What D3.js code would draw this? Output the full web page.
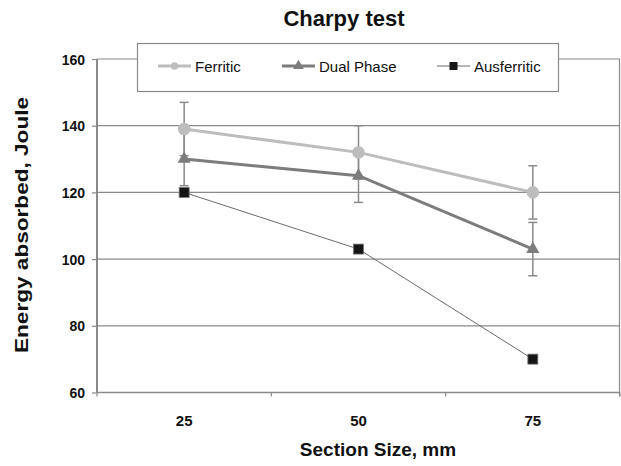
<!DOCTYPE html>
<html>
<head>
<meta charset="utf-8">
<script src="https://cdn.jsdelivr.net/npm/d3@7"></script>
<style>
  body { margin: 0; background: #fff; }
  text { font-family: "Liberation Sans", Arial, sans-serif; }
</style>
</head>
<body>
<div id="chart"></div>
<script>
// chart data
var sections = ["25", "50", "75"];
var ferritic = [139, 132, 120];
var ferriticErr = [8, 8, 8];
var dualPhase = [130, 125, 103];
var dualPhaseErr = [8, 8, 8];
var ausferritic = [120, 103, 70];
var yTicks = [60, 80, 100, 120, 140, 160];

var svgWidth = 621;
var svgHeight = 466;

var margin = {
  top: 59,
  right: 1,
  bottom: 73.5,
  left: 97
};

var width = svgWidth - margin.left - margin.right;
var height = svgHeight - margin.top - margin.bottom;

var svg = d3.select("#chart")
  .append("svg")
  .attr("width", svgWidth)
  .attr("height", svgHeight);

var chartGroup = svg.append("g")
  .attr("transform", `translate(${margin.left}, ${margin.top})`);

// scales
var xScale = d3.scalePoint()
  .domain(sections)
  .range([0, width])
  .padding(0.5);

var yScale = d3.scaleLinear()
  .domain([60, 160])
  .range([height, 0]);

// horizontal gridlines
chartGroup.selectAll(".grid")
  .data(yTicks.slice(1))
  .enter()
  .append("line")
  .attr("x1", 0)
  .attr("x2", width)
  .attr("y1", d => yScale(d))
  .attr("y2", d => yScale(d))
  .attr("stroke", "#8a8a8a")
  .attr("stroke-width", 1.2);

// right frame line
chartGroup.append("line")
  .attr("x1", width - 0.5)
  .attr("x2", width - 0.5)
  .attr("y1", 0)
  .attr("y2", height + 4)
  .attr("stroke", "#8a8a8a")
  .attr("stroke-width", 1.2);

// y axis
var leftAxis = d3.axisLeft(yScale)
  .tickValues(yTicks)
  .tickSize(5)
  .tickPadding(7);

var yAxis = chartGroup.append("g").call(leftAxis);
yAxis.select(".domain").attr("stroke", "#8a8a8a").attr("stroke-width", 2)
  .attr("d", `M0,0V${height}`);
yAxis.selectAll(".tick line").attr("stroke", "#8a8a8a").attr("stroke-width", 1.2);
yAxis.selectAll(".tick text")
  .attr("font-size", 14)
  .attr("font-weight", "bold")
  .attr("fill", "#111")
  .attr("dy", "0.36em");

// x axis, ticks between categories
var step = xScale.step();
var xAxis = chartGroup.append("g")
  .attr("transform", `translate(0, ${height})`);
xAxis.append("line")
  .attr("x1", 0)
  .attr("x2", width)
  .attr("stroke", "#8a8a8a")
  .attr("stroke-width", 1.5);
xAxis.selectAll(".xtick")
  .data(d3.range(sections.length + 1))
  .enter()
  .append("line")
  .attr("x1", d => d * step)
  .attr("x2", d => d * step)
  .attr("y1", 0)
  .attr("y2", 4)
  .attr("stroke", "#8a8a8a")
  .attr("stroke-width", 1.2);
xAxis.selectAll(".xlabel")
  .data(sections)
  .enter()
  .append("text")
  .attr("x", d => xScale(d))
  .attr("y", 33.5)
  .attr("text-anchor", "middle")
  .attr("font-size", 15)
  .attr("font-weight", "bold")
  .attr("fill", "#111")
  .text(d => d);

// error bars
function drawErrors(values, errs) {
  values.forEach(function(v, i) {
    var x = xScale(sections[i]);
    var g = chartGroup.append("g")
      .attr("stroke", "#8a8a8a")
      .attr("stroke-width", 1.5);
    g.append("line")
      .attr("x1", x).attr("x2", x)
      .attr("y1", yScale(v - errs[i]))
      .attr("y2", yScale(v + errs[i]));
    [v - errs[i], v + errs[i]].forEach(function(e) {
      g.append("line")
        .attr("x1", x - 4.5).attr("x2", x + 4.5)
        .attr("y1", yScale(e)).attr("y2", yScale(e));
    });
  });
}
drawErrors(ferritic, ferriticErr);
drawErrors(dualPhase, dualPhaseErr);

// series lines
var line = d3.line()
  .x((d, i) => xScale(sections[i]))
  .y(d => yScale(d));

chartGroup.append("path")
  .datum(ausferritic)
  .attr("d", line)
  .attr("fill", "none")
  .attr("stroke", "#6a6a6a")
  .attr("stroke-width", 1);

chartGroup.append("path")
  .datum(dualPhase)
  .attr("d", line)
  .attr("fill", "none")
  .attr("stroke", "#7c7c7c")
  .attr("stroke-width", 3);

chartGroup.append("path")
  .datum(ferritic)
  .attr("d", line)
  .attr("fill", "none")
  .attr("stroke", "#bdbdbd")
  .attr("stroke-width", 3);

// markers
var triangle = d3.symbol().type(d3.symbolTriangle).size(75);
var circleSym = d3.symbol().type(d3.symbolCircle).size(125);

chartGroup.selectAll(".sq")
  .data(ausferritic)
  .enter()
  .append("rect")
  .attr("x", (d, i) => xScale(sections[i]) - 5)
  .attr("y", d => yScale(d) - 5)
  .attr("width", 10)
  .attr("height", 10)
  .attr("fill", "#151515")
  .attr("stroke", "#777")
  .attr("stroke-width", 0.8);

chartGroup.selectAll(".tri")
  .data(dualPhase)
  .enter()
  .append("path")
  .attr("d", triangle)
  .attr("transform", (d, i) => `translate(${xScale(sections[i])}, ${yScale(d)})`)
  .attr("fill", "#7c7c7c");

chartGroup.selectAll(".dot")
  .data(ferritic)
  .enter()
  .append("path")
  .attr("d", circleSym)
  .attr("transform", (d, i) => `translate(${xScale(sections[i])}, ${yScale(d)})`)
  .attr("fill", "#bdbdbd");

// legend
var legend = svg.append("g");
legend.append("rect")
  .attr("x", 137.5)
  .attr("y", 43.5)
  .attr("width", 421)
  .attr("height", 48)
  .attr("fill", "#fff")
  .attr("stroke", "#8a8a8a")
  .attr("stroke-width", 1.2);

var legendItems = [
  { name: "Ferritic", x: 158, color: "#bdbdbd", w: 3, mark: "circle" },
  { name: "Dual Phase", x: 282, color: "#7c7c7c", w: 3, mark: "tri" },
  { name: "Ausferritic", x: 437, color: "#6a6a6a", w: 1, mark: "sq" }
];

legendItems.forEach(function(item) {
  var g = legend.append("g").attr("transform", `translate(${item.x}, 66)`);
  g.append("line")
    .attr("x1", 0).attr("x2", 33)
    .attr("stroke", item.color)
    .attr("stroke-width", item.w);
  if (item.mark === "circle") {
    g.append("path").attr("d", d3.symbol().type(d3.symbolCircle).size(45))
      .attr("transform", "translate(16.5,0)").attr("fill", item.color);
  } else if (item.mark === "tri") {
    g.append("path").attr("d", d3.symbol().type(d3.symbolTriangle).size(50))
      .attr("transform", "translate(16.5,0)").attr("fill", item.color);
  } else {
    g.append("rect").attr("x", 12.5).attr("y", -4).attr("width", 8).attr("height", 8)
      .attr("fill", "#151515");
  }
  g.append("text")
    .attr("x", 37)
    .attr("y", 5.5)
    .attr("font-size", 15)
    .attr("fill", "#111")
    .text(item.name);
});

// title and axis labels
svg.append("text")
  .attr("x", 344)
  .attr("y", 26)
  .attr("text-anchor", "middle")
  .attr("font-size", 22)
  .attr("font-weight", "bold")
  .attr("fill", "#111")
  .text("Charpy test");

svg.append("text")
  .attr("x", 378)
  .attr("y", 456)
  .attr("text-anchor", "middle")
  .attr("font-size", 19)
  .attr("font-weight", "bold")
  .attr("fill", "#111")
  .text("Section Size, mm");

svg.append("text")
  .attr("transform", "translate(28, 225) rotate(-90)")
  .attr("text-anchor", "middle")
  .attr("font-size", 18)
  .attr("font-weight", "bold")
  .attr("fill", "#111")
  .attr("textLength", 256)
  .attr("lengthAdjust", "spacingAndGlyphs")
  .text("Energy absorbed, Joule");
</script>
</body>
</html>
